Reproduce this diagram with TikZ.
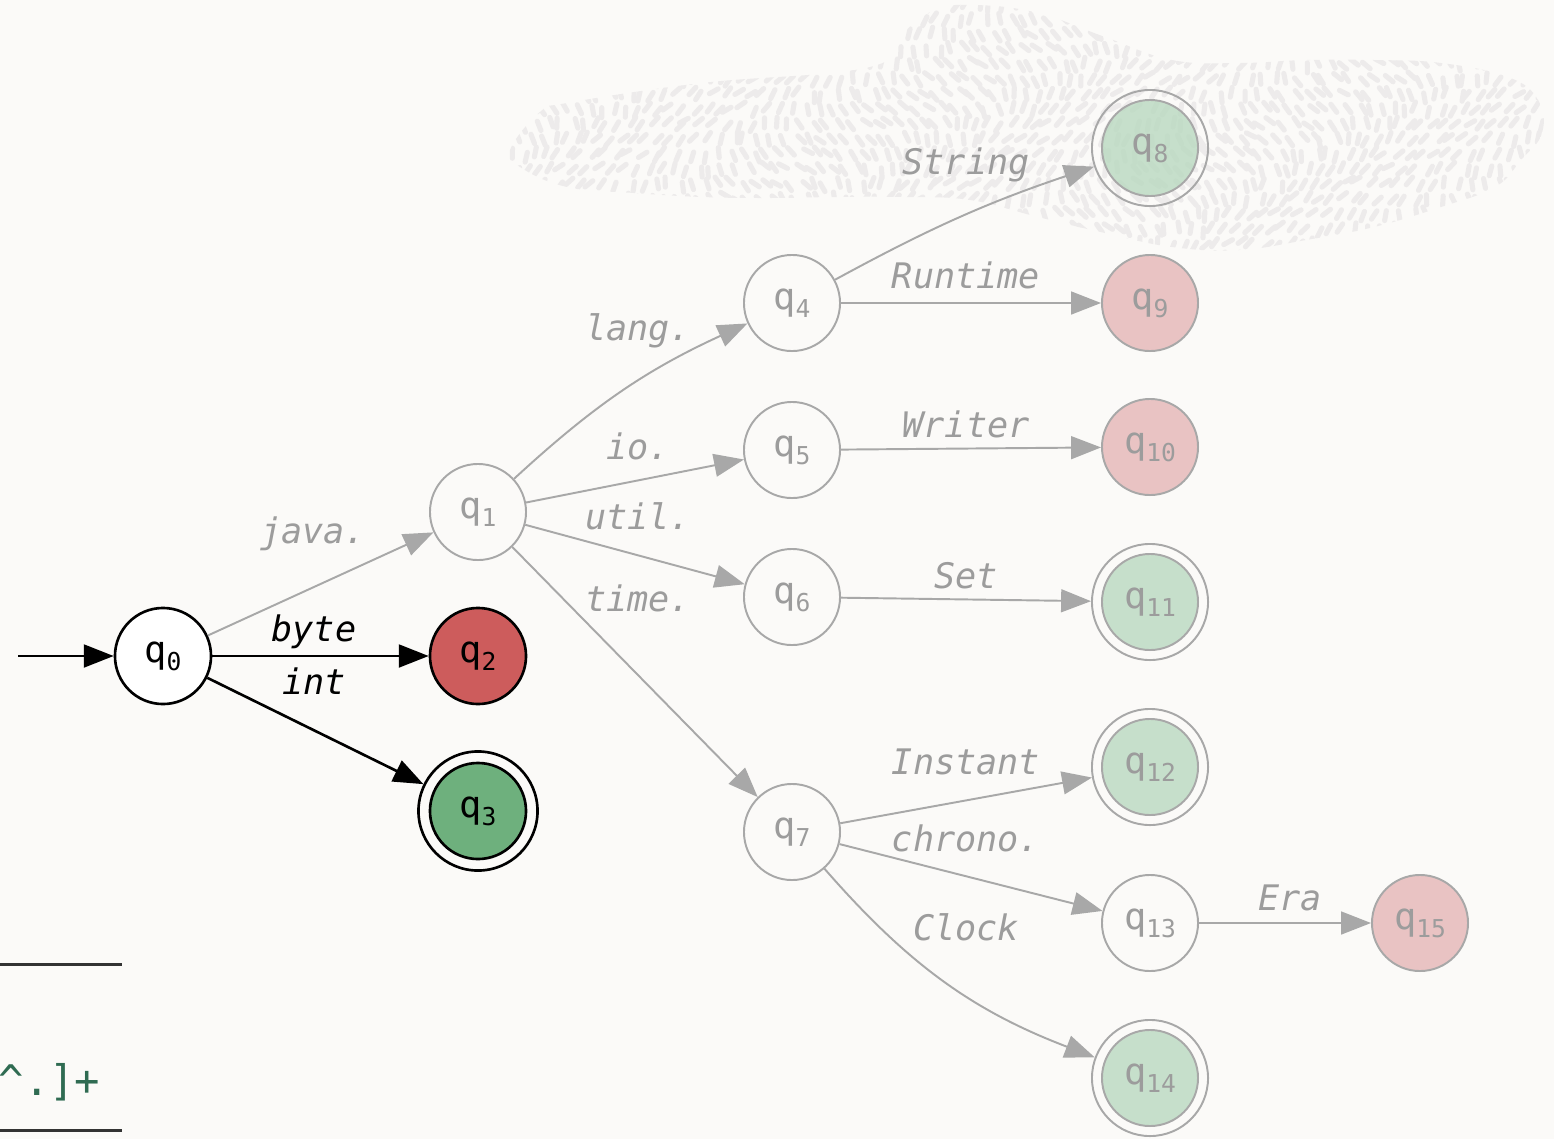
\documentclass[tikz,border=0pt]{standalone}
\usepackage{fontspec}
\setmainfont{DejaVu Sans Mono}
\usetikzlibrary{arrows.meta}
\definecolor{bgc}{HTML}{FBFAF8}
\definecolor{fgray}{HTML}{A8A8A8}
\definecolor{tgray}{HTML}{9C9C9C}
\definecolor{lgreen}{HTML}{B9D9C0}
\definecolor{pinkc}{HTML}{E9C3C3}
\definecolor{redc}{HTML}{CD5C5C}
\definecolor{greenc}{HTML}{6EB07D}
\definecolor{dashc}{HTML}{EDEBEB}
\definecolor{codegreen}{HTML}{2F6B52}
\definecolor{rulec}{HTML}{333333}
\newcommand\qsub[2]{#1\raisebox{-0.22em}{\fontsize{7}{8}\selectfont #2}}
\begin{document}
\begin{tikzpicture}[x=0.01cm, y=-0.01cm,
  nbase/.style={circle, minimum size=0.96cm, inner sep=0pt, line width=0.55pt, font=\fontsize{10.5}{12}\selectfont},
  fplain/.style={nbase, draw=fgray, text=tgray, fill=bgc},
  fpink/.style={nbase, draw=fgray, text=tgray, fill=pinkc},
  facc/.style={nbase, minimum size=1.16cm, draw=fgray, text=tgray,
    path picture={\filldraw[fill=lgreen, fill opacity=0.8, draw=fgray, line width=0.55pt] (path picture bounding box.center) circle[radius=0.48cm];}},
  bplain/.style={nbase, line width=0.75pt, draw=black, fill=white, text=black},
  bred/.style={nbase, line width=0.75pt, draw=black, fill=redc, text=black},
  bacc/.style={nbase, line width=0.75pt, minimum size=1.19cm, draw=black, text=black,
    path picture={\filldraw[fill=greenc, draw=black, line width=0.75pt] (path picture bounding box.center) circle[radius=0.48cm];}},
  fedge/.style={draw=fgray, line width=0.55pt, -{Triangle[length=8.5pt,width=6.5pt]}},
  bedge/.style={draw=black, line width=0.75pt, -{Triangle[length=8.5pt,width=6.5pt]}},
  flbl/.style={font=\fontsize{10}{12}\selectfont\itshape, text=tgray, anchor=base, inner sep=0pt},
  blbl/.style={flbl, text=black},
  blobdash/.style={draw=dashc, line width=1.45pt, line cap=round}
]
\useasboundingbox (0,0) rectangle (1554,1139);
\fill[bgc] (0,0) rectangle (1554,1139);

% textured blob
\begin{scope}
\clip plot[smooth cycle, tension=0.7] coordinates {
 (510,150) (540,112) (567,103) (702,83) (870,67) (903,33) (935,10) (975,5)
 (1038,13) (1105,37) (1172,60) (1239,63) (1306,60) (1374,60) (1441,63)
 (1508,77) (1538,100) (1542,133) (1521,160) (1495,187) (1441,207) (1374,227)
 (1306,240) (1239,250) (1172,247) (1105,233) (1038,217) (970,200) (903,197)
 (836,197) (769,198) (702,197) (634,193) (567,187) (520,167)};
\pgfmathsetseed{5}
\foreach \gx in {500,512,...,1550}{
  \foreach \gy in {0,15,...,265}{
    \pgfmathsetmacro\px{\gx+8*rnd-4+(mod(\gy,30)>10 ? 6 : 0)}
    \pgfmathsetmacro\py{\gy+6*rnd-3}
    \pgfmathsetmacro\pa{75+50*sin(0.9*\gx+1.7*\gy)+30*rnd}
    \draw[blobdash] (\px,\py) -- ++(\pa:10);
  }
}
\end{scope}

% nodes
\node[bplain] (q0) at (163,656) {\qsub{q}{0}};
\node[fplain] (q1) at (478,512) {\qsub{q}{1}};
\node[bred]   (q2) at (478,656) {\qsub{q}{2}};
\node[bacc]   (q3) at (478,811) {\qsub{q}{3}};
\node[fplain] (q4) at (792,303) {\qsub{q}{4}};
\node[fplain] (q5) at (792,450) {\qsub{q}{5}};
\node[fplain] (q6) at (792,597) {\qsub{q}{6}};
\node[fplain] (q7) at (792,832) {\qsub{q}{7}};
\node[facc]   (q8) at (1150,148) {\qsub{q}{8}};
\node[fpink]  (q9) at (1150,303) {\qsub{q}{9}};
\node[fpink]  (q10) at (1150,447) {\qsub{q}{10}};
\node[facc]   (q11) at (1150,602) {\qsub{q}{11}};
\node[facc]   (q12) at (1150,767) {\qsub{q}{12}};
\node[fplain] (q13) at (1150,923) {\qsub{q}{13}};
\node[facc]   (q14) at (1150,1078) {\qsub{q}{14}};
\node[fpink]  (q15) at (1420,923) {\qsub{q}{15}};

\coordinate (start) at (18,656);

% edges
\draw[bedge] (start) -- (q0);
\draw[fedge] (q0) -- (q1);
\draw[bedge] (q0) -- (q2);
\draw[bedge] (q0) -- (q3);
\draw[fedge] (q1) to[bend left=9] (q4);
\draw[fedge] (q1) -- (q5);
\draw[fedge] (q1) -- (q6);
\draw[fedge] (q1) -- (q7);
\draw[fedge] (q4) to[bend left=5] (q8);
\draw[fedge] (q4) -- (q9);
\draw[fedge] (q5) -- (q10);
\draw[fedge] (q6) -- (q11);
\draw[fedge] (q7) -- (q12);
\draw[fedge] (q7) -- (q13);
\draw[fedge] (q7) to[bend right=14] (q14);
\draw[fedge] (q13) -- (q15);

% labels
\node[flbl] (ljava) at (313,543) {java.};
\node[blbl] (lbyte) at (314,641) {byte};
\node[blbl] (lint) at (314,694) {int};
\node[flbl] (llang) at (638,340) {lang.};
\node[flbl] (lio) at (638,459) {io.};
\node[flbl] (lutil) at (638,529) {util.};
\node[flbl] (ltime) at (638,611) {time.};
\node[flbl] (lstring) at (966,174) {String};
\node[flbl] (lruntime) at (966,288) {Runtime};
\node[flbl] (lwriter) at (966,437) {Writer};
\node[flbl] (lset) at (966,588) {Set};
\node[flbl] (linstant) at (966,774) {Instant};
\node[flbl] (lchrono) at (966,851) {chrono.};
\node[flbl] (lclock) at (966,940) {Clock};
\node[flbl] (lera) at (1290,910) {Era};

% bottom-left fragment
\draw[rulec, line width=0.85pt] (0,964) -- (122,964);
\draw[rulec, line width=0.85pt] (0,1130) -- (122,1130);
\node[anchor=base west, inner sep=0pt, text=codegreen, font=\fontsize{12}{14}\selectfont] (code) at (-2,1095) {\textasciicircum.]+};
\end{tikzpicture}
\end{document}
